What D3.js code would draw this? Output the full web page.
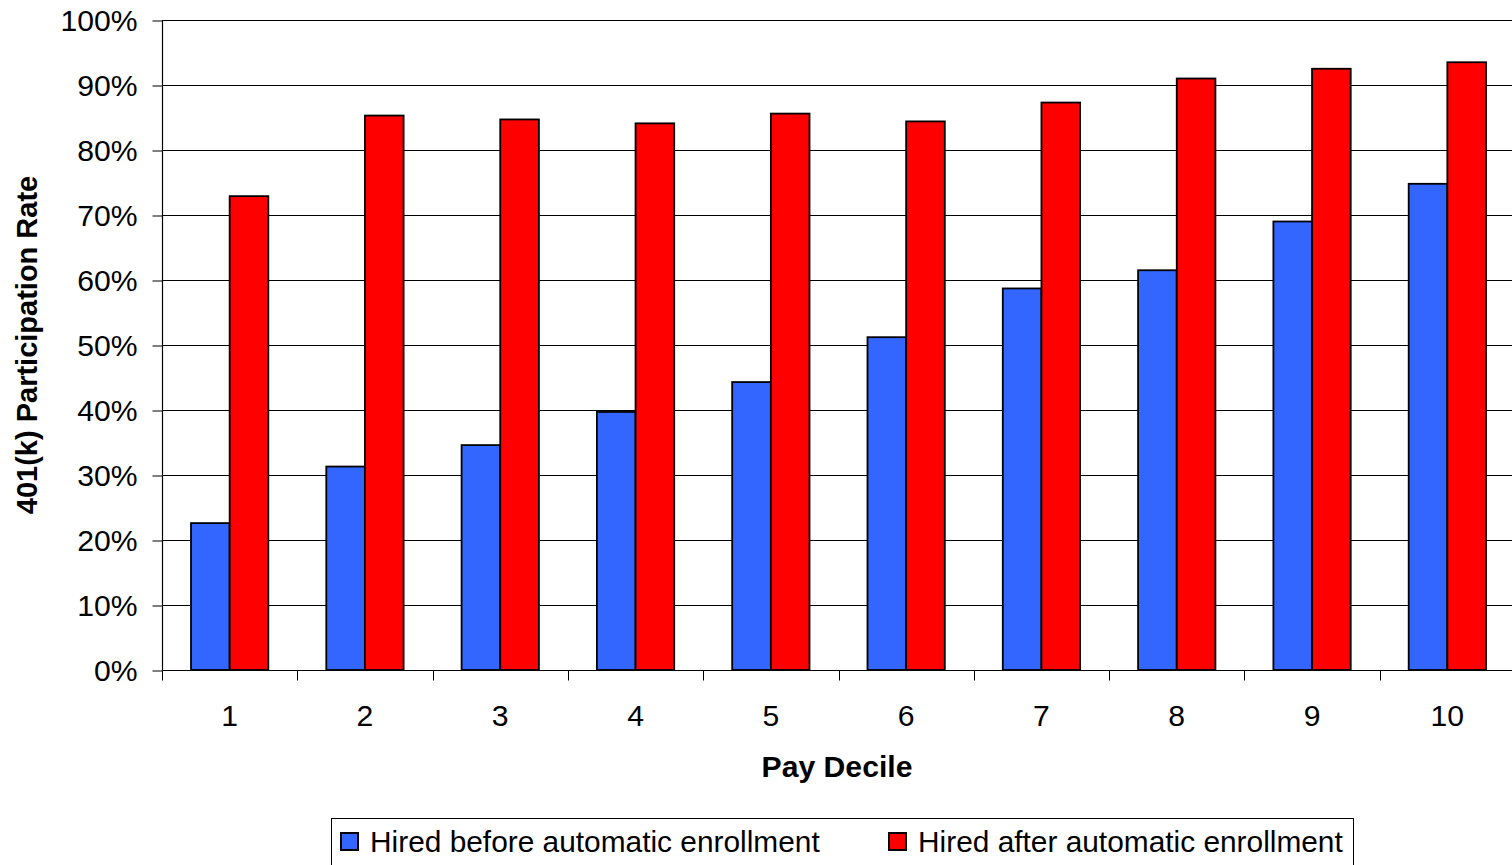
<!DOCTYPE html>
<html>
<head>
<meta charset="utf-8">
<script src="https://cdn.jsdelivr.net/npm/d3@7"></script>
<style>
  html, body { margin: 0; padding: 0; background: #fff; overflow: hidden; }
  svg { display: block; font-family: "Liberation Sans", Arial, sans-serif; }
</style>
</head>
<body>
<svg id="chart" width="1512" height="865"></svg>
<script>
// Pay deciles and 401(k) participation rates (fraction of employees)
const deciles = ["1", "2", "3", "4", "5", "6", "7", "8", "9", "10"];
const hiredBefore = [0.226, 0.313, 0.346, 0.397, 0.443, 0.512, 0.587, 0.615, 0.690, 0.748];
const hiredAfter  = [0.729, 0.853, 0.847, 0.841, 0.856, 0.844, 0.873, 0.910, 0.925, 0.935];
const seriesNames = ["Hired before automatic enrollment", "Hired after automatic enrollment"];
const seriesColors = ["#3366FF", "#FF0000"];
const yTicks = [0, 0.1, 0.2, 0.3, 0.4, 0.5, 0.6, 0.7, 0.8, 0.9, 1.0];

const svg = d3.select("#chart");
const plotLeft = 162, plotRight = 1515, plotTop = 20, plotBottom = 670;
const fontSize = 29;
const stretch = 1.04; // slightly wide lettering

// Places a horizontally stretched text at (px, py)
function placeText(sel, px, py, s = stretch) {
  return sel.attr("x", 0).attr("y", 0)
    .attr("transform", `translate(${px},${py}) scale(${s},1)`);
}

const x = d3.scaleBand().domain(deciles).range([plotLeft, plotRight]).paddingInner(0).paddingOuter(0);
const barW = x.bandwidth() / 3.5;
const y = d3.scaleLinear().domain([0, 1]).range([plotBottom, plotTop]);

// Horizontal gridlines
svg.append("g")
  .selectAll("line")
  .data(yTicks.filter(d => d > 0))
  .join("line")
  .attr("x1", plotLeft).attr("x2", plotRight)
  .attr("y1", d => Math.round(y(d)) + 0.5).attr("y2", d => Math.round(y(d)) + 0.5)
  .attr("stroke", "#000").attr("stroke-width", 1);

// Bars
const series = [hiredBefore, hiredAfter];
series.forEach((vals, si) => {
  svg.append("g")
    .selectAll("rect")
    .data(deciles.map((d, i) => ({ d, v: vals[i] })))
    .join("rect")
    .attr("x", p => x(p.d) + 0.75 * barW + si * barW)
    .attr("y", p => y(p.v))
    .attr("width", barW)
    .attr("height", p => plotBottom - y(p.v))
    .attr("fill", seriesColors[si])
    .attr("stroke", "#000")
    .attr("stroke-width", 1.8);
});

// Y axis
const yAxis = d3.axisLeft(y)
  .tickValues(yTicks)
  .tickFormat(d3.format(".0%"))
  .tickSize(10)
  .tickPadding(14);
const gy = svg.append("g").attr("transform", `translate(${plotLeft + 0.5},0.5)`).call(yAxis);
gy.select(".domain").attr("stroke", "#000").attr("stroke-width", 1.2).attr("d", `M0,${plotTop}V${plotBottom}`);
gy.selectAll(".tick line").attr("stroke", "#000");
gy.selectAll(".tick text")
  .attr("font-size", fontSize).attr("fill", "#000")
  .attr("font-family", "'Liberation Sans', Arial, sans-serif")
  .attr("dy", null)
  .each(function () { placeText(d3.select(this), -25, 10); });

// X axis: ticks between categories
const gx = svg.append("g").attr("transform", `translate(0,${plotBottom + 0.5})`);
gx.append("line").attr("x1", plotLeft).attr("x2", plotRight).attr("stroke", "#000").attr("stroke-width", 1.2);
gx.selectAll("line.sep")
  .data(deciles)
  .join("line")
  .attr("class", "sep")
  .attr("x1", d => Math.round(x(d)) + 0.5).attr("x2", d => Math.round(x(d)) + 0.5)
  .attr("y1", 0).attr("y2", 10)
  .attr("stroke", "#000");
gx.selectAll("text")
  .data(deciles)
  .join("text")
  .attr("text-anchor", "middle")
  .attr("font-size", fontSize)
  .attr("fill", "#000")
  .text(d => d)
  .each(function (d) { placeText(d3.select(this), x(d) + x.bandwidth() / 2, 55); });

// Axis titles
placeText(svg.append("text"), 837, 777)
  .attr("text-anchor", "middle")
  .attr("font-size", fontSize).attr("font-weight", "bold")
  .text("Pay Decile");

svg.append("text")
  .attr("transform", `translate(37,${(plotTop + plotBottom) / 2}) rotate(-90)`)
  .attr("text-anchor", "middle")
  .attr("font-size", fontSize).attr("font-weight", "bold")
  .text("401(k) Participation Rate");

// Legend
const lg = svg.append("g");
lg.append("rect")
  .attr("x", 331.5).attr("y", 818.5).attr("width", 1022).attr("height", 60)
  .attr("fill", "#fff").attr("stroke", "#000").attr("stroke-width", 1);
const legendX = [341, 889];
seriesNames.forEach((name, i) => {
  lg.append("rect")
    .attr("x", legendX[i]).attr("y", 833).attr("width", 17).attr("height", 17)
    .attr("fill", seriesColors[i]).attr("stroke", "#000").attr("stroke-width", 2);
  placeText(lg.append("text"), legendX[i] + 29, 852, 1.03)
    .attr("font-size", fontSize).attr("fill", "#000")
    .text(name);
});
</script>
</body>
</html>
